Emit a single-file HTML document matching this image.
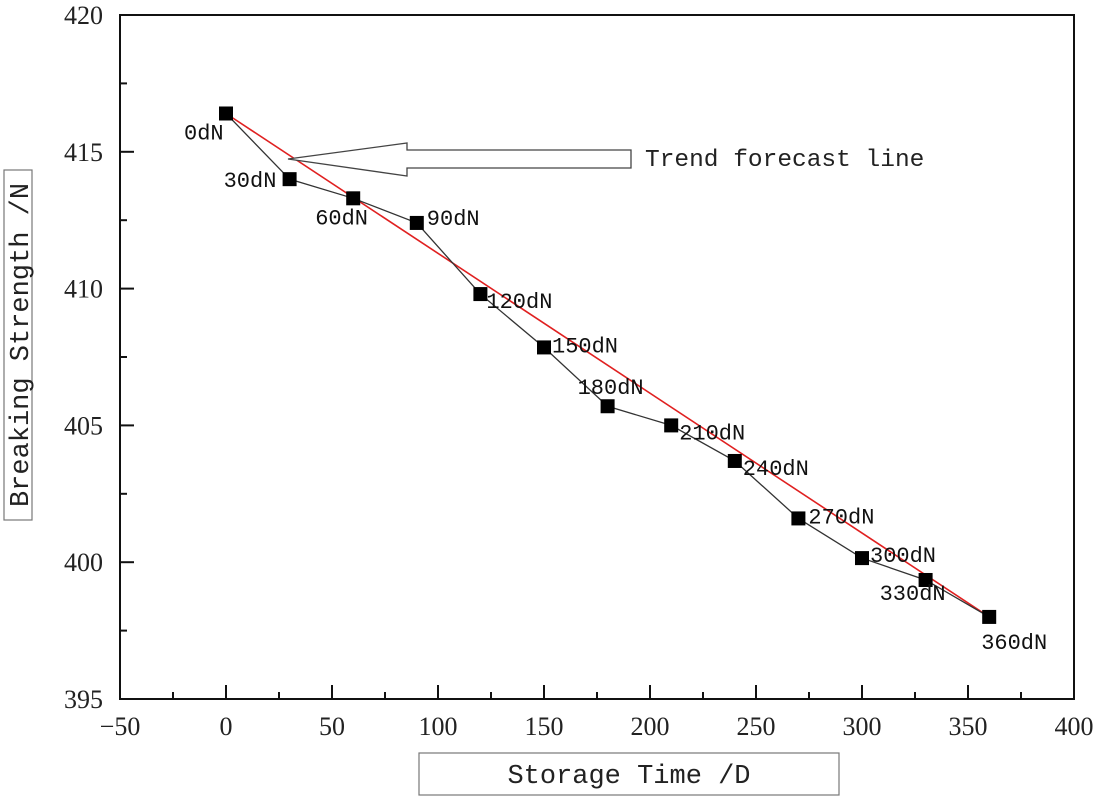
<!DOCTYPE html>
<html><head><meta charset="utf-8"><style>
html,body{margin:0;padding:0;background:#fff;}
svg{display:block;}
.tk{font-family:"Liberation Serif",serif;font-size:26px;fill:#222;}
.pl{font-family:"Liberation Mono",monospace;font-size:22px;fill:#111;}
.ttl{font-family:"Liberation Mono",monospace;font-size:27px;fill:#222;}
</style></head><body>
<svg id="chart" width="1103" height="800" viewBox="0 0 1103 800" xmlns="http://www.w3.org/2000/svg">
<rect x="120" y="15" width="954" height="684" fill="none" stroke="#111" stroke-width="2"/>
<g id="axes"></g>
<line id="trend" stroke="#e02020" stroke-width="1.6"/>
<polyline id="series" fill="none" stroke="#333" stroke-width="1.3"/>
<g id="marks"></g>
<polygon points="288,159 407,143 407,150 631,150 631,168 407,168 407,176" fill="#fff" stroke="#444" stroke-width="1.3"/>
<text x="645" y="166" font-family="Liberation Mono, monospace" font-size="24.5" fill="#222">Trend forecast line</text>
<rect x="4" y="170" width="28" height="350" fill="#fff" stroke="#777" stroke-width="1.2"/>
<text class="ttl" transform="translate(28,345) rotate(-90)" text-anchor="middle">Breaking Strength /N</text>
<rect x="419" y="753" width="420" height="42" fill="#fff" stroke="#777" stroke-width="1.2"/>
<text class="ttl" x="629" y="783" text-anchor="middle">Storage Time /D</text>
</svg>
<script>
const days=[0,30,60,90,120,150,180,210,240,270,300,330,360];
const strength=[416.4,414.0,413.3,412.4,409.8,407.85,405.7,405.0,403.7,401.6,400.15,399.35,398.0];
const pointLabels=["0dN","30dN","60dN","90dN","120dN","150dN","180dN","210dN","240dN","270dN","300dN","330dN","360dN"];
const xTicks=[-50,0,50,100,150,200,250,300,350,400];
const yTicks=[395,400,405,410,415,420];
const trendStart=[0,416.4];
const trendEnd=[360,398.0];
const labelOffsets=[[-42,26],[-66,8],[-38,26],[10,2],[6,14],[8,5],[-30,-12],[8,14],[8,14],[10,5],[8,4],[-46,20],[-8,32]];
const NS="http://www.w3.org/2000/svg";
const X=v=>120+(v+50)*954/450, Y=v=>699-(v-395)*684/25;
function mk(t,a,p){const e=document.createElementNS(NS,t);for(const k in a)e.setAttribute(k,a[k]);p.appendChild(e);return e;}
const ax=document.getElementById('axes');
xTicks.forEach((t,i)=>{
 const tk=mk('line',{x1:X(t),x2:X(t),y1:699,y2:685,stroke:'#111','stroke-width':2},ax);
 
 
 if(i<xTicks.length-1){const m=mk('line',{x1:X(t+25),x2:X(t+25),y1:699,y2:692,stroke:'#111','stroke-width':2},ax);
 
 }
 const tx=mk('text',{x:X(t),y:735,'text-anchor':'middle',class:'tk'},ax);tx.textContent=t<0?'\u2212'+(-t):t;
 
 
});
yTicks.forEach((t,i)=>{
 const tk=mk('line',{x1:120,x2:134,y1:Y(t),y2:Y(t),stroke:'#111','stroke-width':2},ax);
 
 
 if(i<yTicks.length-1){const m=mk('line',{x1:120,x2:127,y1:Y(t+2.5),y2:Y(t+2.5),stroke:'#111','stroke-width':2},ax);
 
 }
 const tx=mk('text',{x:103,y:Y(t)+9,'text-anchor':'end',class:'tk'},ax);tx.textContent=t;
 
 
});
const tr=document.getElementById('trend');
tr.setAttribute('x1',X(trendStart[0]));tr.setAttribute('y1',Y(trendStart[1]));
tr.setAttribute('x2',X(trendEnd[0]));tr.setAttribute('y2',Y(trendEnd[1]));
document.getElementById('series').setAttribute('points',days.map((d,i)=>X(d)+','+Y(strength[i])).join(' '));
const mg=document.getElementById('marks');
days.forEach((d,i)=>{
 const r=mk('rect',{x:X(d)-7,y:Y(strength[i])-7,width:14,height:14,fill:'#000'},mg);
 
 
 const t=mk('text',{x:X(d)+labelOffsets[i][0],y:Y(strength[i])+labelOffsets[i][1],class:'pl'},mg);t.textContent=pointLabels[i];
 
 
});
</script>
</body></html>
